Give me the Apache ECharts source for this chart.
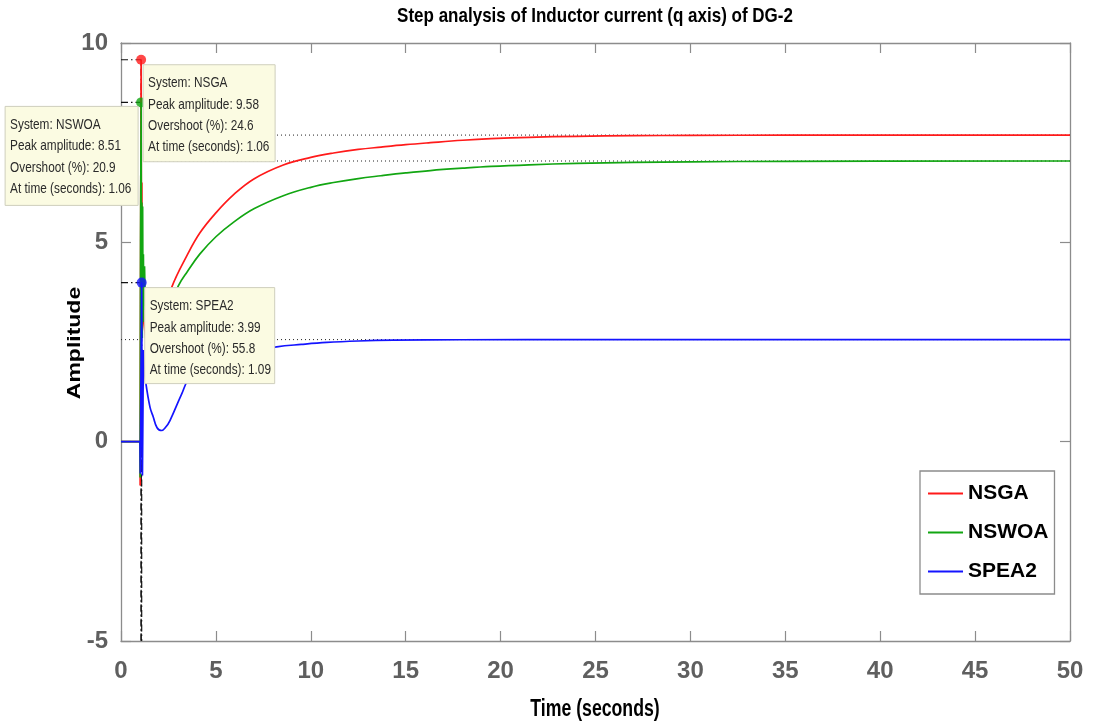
<!DOCTYPE html>
<html><head><meta charset="utf-8">
<script src="https://cdn.jsdelivr.net/npm/echarts@6/dist/echarts.min.js"></script>
<style>html,body{margin:0;padding:0;background:#fff}#c{width:1093px;height:725px}</style>
</head><body><div id="c"></div>
<script>
// ---------- data ----------
const seriesNames = ['NSGA', 'NSWOA', 'SPEA2'];
const seriesColors = ['#ff1a1a', '#12a612', '#1414ff'];

const nsgaT = [0, 1.0, 1.01, 1.03, 1.06, 1.08, 1.10, 1.12, 1.15, 1.2, 1.3, 1.6, 2.0, 2.3, 2.67, 3.5, 4.16, 5.0, 5.92, 7.0, 8.55, 10.0, 11.2, 12.5, 13.7, 15.0, 16.3, 18.0, 19.5, 21.5, 24.0, 27.0, 30.0, 35.0, 50.0];
const nsgaY = [0, 0, -1.1, 4.0, 9.58, 3.5, 6.5, 3.0, 4.0, 3.0, 2.6, 2.2, 2.6, 3.2, 3.87, 4.69, 5.24, 5.74, 6.19, 6.59, 6.94, 7.13, 7.24, 7.33, 7.39, 7.45, 7.50, 7.56, 7.60, 7.635, 7.66, 7.675, 7.683, 7.688, 7.69];

const nswoaT = [0, 1.0, 1.01, 1.03, 1.06, 1.08, 1.10, 1.12, 1.14, 1.16, 1.18, 1.20, 1.24, 1.28, 1.35, 1.6, 2.0, 2.5, 3.02, 3.5, 4.16, 5.0, 5.92, 7.0, 8.55, 10.0, 11.2, 12.5, 13.7, 15.0, 16.3, 18.0, 19.5, 21.5, 24.0, 27.0, 30.0, 35.0, 50.0];
const nswoaY = [0, 0, -0.9, 5.0, 8.51, 2.8, 6.0, 2.6, 5.9, 3.0, 4.7, 3.3, 4.4, 3.4, 2.4, 2.1, 2.5, 3.3, 3.91, 4.27, 4.71, 5.14, 5.50, 5.84, 6.17, 6.38, 6.50, 6.60, 6.67, 6.74, 6.80, 6.86, 6.905, 6.945, 6.98, 7.005, 7.02, 7.032, 7.04];

const spea2T = [0, 1.0, 1.02, 1.05, 1.09, 1.11, 1.13, 1.16, 1.18, 1.22, 1.3, 1.53, 1.7, 1.9, 2.14, 2.35, 2.58, 3.2, 3.63, 4.5, 5.5, 7.0, 8.2, 9.5, 10.84, 12.5, 14.35, 17.86, 25, 50];
const spea2Y = [0, 0, -0.8, 1.5, 3.99, 0.5, -0.85, 1.0, 2.3, 1.8, 1.5, 0.86, 0.62, 0.35, 0.28, 0.36, 0.53, 1.2, 1.61, 1.87, 2.08, 2.28, 2.38, 2.44, 2.49, 2.525, 2.545, 2.557, 2.56, 2.56];

const peakT = [1.06, 1.06, 1.09];
const peakY = [9.58, 8.51, 3.99];
const overshootPct = [24.6, 20.9, 55.8];
const finalY = [7.69, 7.04, 2.56];

const xMin = 0, xMax = 50, xStep = 5;
const yMin = -5, yMax = 10, yStep = 5;

const titleText = 'Step analysis of Inductor current (q axis) of DG-2';
const xName = 'Time (seconds)';
const yName = 'Amplitude';

// ---------- chart ----------
const F = "'Liberation Sans', Arial, sans-serif";
const AX = '#8c8c8c';
const SPLIT_T = 1.3; // spike part drawn straight, tail part smoothed
const zip = (t, y) => t.map((v, i) => [v, y[i]]);
const curves = [zip(nsgaT, nsgaY), zip(nswoaT, nswoaY), zip(spea2T, spea2Y)];

const chart = echarts.init(document.getElementById('c'), null, {renderer: 'canvas'});

function mkX(pos, labels) {
  return {
    type: 'value', min: xMin, max: xMax, interval: xStep, position: pos,
    axisLine: {show: true, onZero: false, lineStyle: {color: AX, width: 1.3}},
    axisTick: {show: true, inside: true, length: 10, lineStyle: {color: AX, width: 1.2}},
    axisLabel: {show: labels, color: '#5f5f5f', fontSize: 24, fontWeight: 'bold', fontFamily: F, margin: 18},
    splitLine: {show: false}
  };
}
function mkY(pos, labels) {
  return {
    type: 'value', min: yMin, max: yMax, interval: yStep, position: pos,
    axisLine: {show: true, onZero: false, lineStyle: {color: AX, width: 1.3}},
    axisTick: {show: true, inside: true, length: 10, lineStyle: {color: AX, width: 1.2}},
    axisLabel: {show: labels, color: '#5f5f5f', fontSize: 24, fontWeight: 'bold', fontFamily: F, margin: 13},
    splitLine: {show: false}
  };
}

const series = [];
// steady-state dotted lines
finalY.forEach((f, i) => {
  series.push({
    type: 'line', name: 'ss' + i, data: [[xMin, f], [xMax, f]], symbol: 'none', silent: true,
    lineStyle: {color: '#222', width: 1, type: [1, 3]}, z: 1, animation: false
  });
});
// peak dash-dot guides
peakT.forEach((t, i) => {
  series.push({
    type: 'line', name: 'pk' + i, data: [[xMin, peakY[i]], [t, peakY[i]], [t, yMin]], symbol: 'none', silent: true,
    lineStyle: {color: '#111', width: 1.2, type: [7, 3, 1.5, 3]}, z: 1, animation: false
  });
});
// main curves: spike part (straight) + tail (smooth)
seriesNames.forEach((n, i) => {
  const pts = curves[i];
  const spike = pts.filter(p => p[0] <= SPLIT_T);
  const tail = pts.filter(p => p[0] >= SPLIT_T);
  series.push({
    type: 'line', name: n, data: spike, symbol: 'none', smooth: false,
    lineStyle: {color: seriesColors[i], width: 1.7}, itemStyle: {color: seriesColors[i]}, z: 3 + i, animation: false
  });
  series.push({
    type: 'line', name: n, data: tail, symbol: 'none', smooth: 0.4,
    lineStyle: {color: seriesColors[i], width: 1.7}, itemStyle: {color: seriesColors[i]}, z: 3 + i, animation: false
  });
});
// peak markers
series.push({
  type: 'scatter', name: 'peaks', symbolSize: 10, z: 10, animation: false,
  data: peakT.map((t, i) => ({value: [t, peakY[i]], itemStyle: {color: seriesColors[i]}}))
});

chart.setOption({
  animation: false,
  backgroundColor: '#fff',
  grid: {left: 121, right: 23, top: 43, bottom: 84, containLabel: false},
  xAxis: [mkX('bottom', true), mkX('top', false)],
  yAxis: [mkY('left', true), mkY('right', false)],
  legend: {
    data: seriesNames, orient: 'vertical', left: 920, top: 471,
    padding: [10, 6, 10, 8], itemGap: 14, itemWidth: 35, itemHeight: 2, icon: 'rect',
    borderColor: AX, borderWidth: 1.3, backgroundColor: '#fff',
    textStyle: {fontSize: 21, fontWeight: 'bold', fontFamily: F, color: '#000', lineHeight: 25}
  },
  series: series
});

// annotations (data tips) anchored to the peak points
const offsets = [[2, 5, 'r'], [-3, 4, 'l'], [3, 5, 'r']];
const boxW = [132, 133, 130], boxH = [97, 99, 96];
const graphics = [];
peakT.forEach((t, i) => {
  const p = chart.convertToPixel({xAxisIndex: 0, yAxisIndex: 0}, [t, peakY[i]]);
  const o = offsets[i];
  const left = o[2] === 'r' ? p[0] + o[0] : p[0] + o[0] - boxW[i];
  const top = p[1] + o[1];
  graphics.push({
    type: 'rect', x: left, y: top, z: 100, zlevel: 1,
    shape: {x: 0, y: 0, width: boxW[i], height: boxH[i]},
    style: {fill: '#fbfbe2', stroke: '#cfcfbd', lineWidth: 1}
  });
  graphics.push({
    type: 'text', x: left + 5, y: top + 8, z: 101, zlevel: 1, scaleY: 1.22,
    style: {
      text: 'System: ' + seriesNames[i] + '\nPeak amplitude: ' + peakY[i] +
            '\nOvershoot (%): ' + overshootPct[i] + '\nAt time (seconds): ' + t.toFixed(2),
      fontSize: 11.8, fontFamily: F, fill: '#2a2a2a',
      lineHeight: 17.5, align: 'left', verticalAlign: 'top'
    }
  });
});
graphics.push({type: 'text', x: 595, y: 17, z: 100, scaleY: 1.15,
  style: {text: titleText, fontSize: 17, fontWeight: 'bold', fontFamily: F, fill: '#000', align: 'center', verticalAlign: 'middle'}});
graphics.push({type: 'text', x: 595, y: 710, z: 100, scaleY: 1.3,
  style: {text: xName, fontSize: 17.7, fontWeight: 'bold', fontFamily: F, fill: '#000', align: 'center', verticalAlign: 'middle'}});
graphics.push({type: 'text', x: 75, y: 343, rotation: Math.PI / 2, scaleX: 1.3, z: 100,
  style: {text: yName, fontSize: 17.7, fontWeight: 'bold', fontFamily: F, fill: '#000', align: 'center', verticalAlign: 'middle'}});
chart.setOption({graphic: graphics});
</script>
</body></html>
